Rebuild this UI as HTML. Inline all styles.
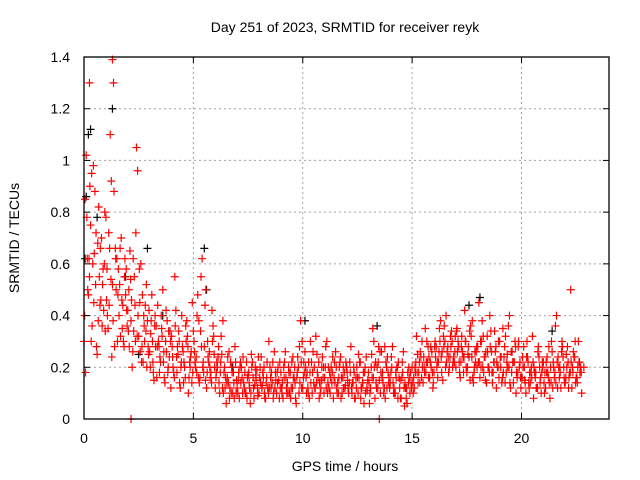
<!DOCTYPE html>
<html><head><meta charset="utf-8"><style>
body{margin:0;background:#fff}
svg{display:block;font-family:"Liberation Sans",sans-serif}
</style></head><body>
<svg id="chart" width="640" height="480" viewBox="0 0 640 480">
<rect width="640" height="480" fill="#fff"/>
<g id="grid"></g>
<g id="marks"></g>
<rect x="84" y="57" width="525" height="362" fill="none" stroke="#000" stroke-width="1.3"/>
<g id="ticks"></g>
<text x="345" y="32" font-size="14" text-anchor="middle">Day 251 of 2023, SRMTID for receiver reyk</text>
<text x="345" y="471" font-size="14" text-anchor="middle">GPS time / hours</text>
<text transform="translate(19,238) rotate(-90)" font-size="14" text-anchor="middle">SRMTID / TECUs</text>
</svg>
<script>
const xTicks=[0,5,10,15,20];
const yTicks=[0,0.2,0.4,0.6,0.8,1,1.2,1.4];
const yTickLabels=["0","0.2","0.4","0.6","0.8","1","1.2","1.4"];
const dt=0.1;
const redAStart=0.05;
const redA=[.85,.62,.55,.95,.45,.72,.38,.66,.52,.80,.58,.44,.92,1.30,.62,.48,.66,.35,.55,.42,.50,.38,.62,.30,.96,.45,.28,.36,.52,.25,.33,.22,.40,.28,.18,.35,.26,.42,.20,.30,.24,.55,.18,.30,.22,.14,.36,.28,.20,.45,.26,.18,.38,.55,.22,.15,.30,.20,.42,.25,.18,.28,.22,.38,.12,.16,.08,.20,.14,.10,.15,.22,.10,.18,.08,.14,.25,.12,.17,.09,.20,.13,.10,.16,.30,.12,.08,.18,.14,.22,.10,.16,.12,.20,.08,.24,.14,.18,.28,.12,.22,.16,.10,.30,.18,.12,.25,.08,.15,.20,.28,.14,.10,.18,.22,.12,.16,.08,.20,.13,.15,.22,.10,.18,.12,.25,.08,.14,.20,.11,.06,.25,.30,.14,.22,.10,.18,.28,.12,.16,.24,.10,.18,.08,.15,.22,.05,.12,.20,.14,.10,.18,.25,.14,.30,.20,.22,.16,.28,.12,.30,.22,.35,.18,.28,.40,.24,.32,.20,.26,.35,.22,.28,.18,.30,.25,.15,.38,.20,.28,.45,.20,.32,.15,.26,.40,.18,.22,.12,.30,.20,.35,.14,.25,.40,.18,.22,.10,.28,.16,.24,.15,.30,.12,.20,.08,.18,.26,.14,.22,.10,.18,.28,.14,.22,.36,.12,.20,.30,.16,.25,.12,.50,.18,.30,.14,.22,.10,.20];
const redBStart=0.0;
const redB=[.30,1.02,.48,.75,.60,.88,.25,.55,.70,.42,.78,.35,1.10,.52,.28,.62,.40,.70,.30,.48,.42,.65,.20,.55,1.05,.32,.60,.22,.44,.38,.26,.48,.15,.36,.30,.22,.50,.14,.38,.24,.32,.18,.42,.25,.12,.28,.20,.38,.16,.26,.34,.20,.48,.16,.62,.28,.12,.22,.18,.36,.12,.20,.10,.25,.18,.06,.14,.22,.10,.28,.12,.08,.20,.14,.10,.17,.06,.22,.13,.19,.10,.24,.16,.08,.12,.20,.14,.26,.10,.15,.18,.08,.26,.14,.10,.22,.16,.06,.20,.38,.12,.26,.18,.08,.22,.14,.32,.16,.10,.24,.16,.30,.12,.20,.08,.26,.14,.22,.10,.18,.20,.10,.28,.14,.08,.16,.22,.12,.06,.24,.18,.12,.35,.08,.20,.15,.26,.10,.22,.18,.14,.28,.10,.20,.16,.08,.26,.12,.18,.10,.20,.12,.32,.18,.24,.14,.35,.22,.16,.26,.18,.28,.22,.38,.15,.30,.26,.20,.34,.24,.20,.30,.16,.26,.42,.18,.24,.32,.14,.22,.28,.16,.38,.24,.14,.20,.34,.18,.26,.20,.30,.14,.24,.18,.36,.12,.22,.30,.16,.20,.16,.28,.10,.22,.14,.32,.18,.12,.24,.10,.22,.12,.18,.08,.26,.16,.40,.20,.12,.24,.14,.28,.18,.12,.24,.16,.30,.20];
const redCStart=0.07;
const redC=[.18,.50,.90,.36,.64,.28,.82,.46,.58,.34,.40,.66,.24,.88,.50,.58,.32,.44,.62,.36,.28,.46,.34,.72,.40,.26,.48,.30,.20,.42,.38,.18,.28,.44,.24,.32,.16,.26,.34,.12,.20,.36,.28,.14,.40,.22,.30,.10,.24,.18,.22,.40,.14,.28,.18,.50,.24,.16,.30,.20,.22,.14,.32,.10,.16,.24,.12,.18,.08,.15,.18,.14,.24,.10,.16,.12,.20,.08,.15,.24,.14,.18,.08,.22,.12,.18,.10,.15,.20,.12,.14,.22,.10,.18,.12,.16,.08,.24,.14,.30,.18,.10,.22,.14,.26,.12,.18,.14,.20,.10,.12,.20,.16,.24,.14,.10,.20,.16,.12,.22,.12,.18,.14,.08,.20,.16,.12,.18,.10,.15,.10,.16,.20,.12,.28,.18,.14,.08,.24,.12,.20,.12,.16,.22,.08,.18,.14,.06,.16,.12,.16,.22,.14,.26,.20,.18,.30,.24,.20,.14,.24,.16,.30,.26,.36,.22,.18,.28,.22,.32,.26,.18,.32,.24,.20,.28,.36,.16,.26,.20,.22,.30,.18,.26,.20,.28,.14,.34,.22,.16,.24,.18,.32,.20,.14,.26,.22,.18,.30,.12,.20,.14,.24,.18,.16,.20,.12,.28,.16,.20,.18,.24,.14,.30,.20,.14,.24,.18,.28,.14,.20,.16,.22,.26,.14,.20,.18];
const redDStart=0.03;
const redD=[.40,.78,.62,.30,.98,.52,.68,.44,.36,.60,.46,.72,.54,.38,.66,.30,.52,.46,.28,.58,.34,.54,.26,.44,.32,.58,.22,.40,.34,.28,.20,.30,.36,.16,.28,.40,.22,.30,.18,.34,.28,.16,.24,.34,.20,.26,.16,.32,.22,.14,.30,.24,.16,.34,.20,.44,.18,.26,.14,.32,.16,.24,.18,.12,.20,.14,.26,.10,.18,.22,.10,.20,.16,.12,.22,.18,.10,.16,.20,.12,.16,.12,.20,.14,.10,.16,.22,.12,.18,.08,.12,.20,.16,.10,.18,.12,.20,.16,.10,.22,.16,.20,.12,.18,.10,.20,.14,.22,.12,.16,.20,.10,.18,.14,.16,.20,.10,.24,.16,.12,.18,.14,.12,.20,.16,.10,.22,.14,.18,.12,.14,.20,.16,.22,.12,.26,.16,.12,.20,.14,.18,.14,.10,.20,.12,.16,.12,.08,.14,.18,.14,.20,.18,.22,.16,.24,.18,.28,.22,.18,.28,.20,.26,.24,.32,.20,.28,.24,.30,.22,.34,.28,.22,.24,.30,.20,.34,.24,.18,.26,.22,.30,.20,.24,.32,.18,.26,.22,.28,.20,.24,.16,.28,.22,.20,.26,.14,.28,.18,.22,.16,.20,.24,.14,.18,.22,.16,.12,.20,.18,.14,.22,.16,.20,.12,.18,.22,.16,.26,.20,.16,.22,.18,.20,.24,.16,.22,.18];
const redExtraT=[2.15,13.5,1.3,0.25];
const redExtraV=[0,0,1.39,1.3];
const blackT=[0.1,0.2,0.3,1.3,0.6,2.9,5.5,5.6,1.9,10.1,13.4,17.6,18.1,21.4,2.5,6.8,12.0,0.05,3.6];
const blackV=[0.86,1.1,1.12,1.2,0.78,0.66,0.66,0.5,0.55,0.38,0.36,0.44,0.47,0.34,0.25,0.2,0.2,0.62,0.4];

const X0=84,X1=609,Y0=419,Y1=57,XMAX=24,YMAX=1.4;
const sx=v=>X0+(X1-X0)*v/XMAX;
const sy=v=>Y0-(Y0-Y1)*v/YMAX;
const NS="http://www.w3.org/2000/svg";
const grid=document.getElementById('grid'),ticks=document.getElementById('ticks'),marks=document.getElementById('marks');
function mk(tag,attrs,parent){const e=document.createElementNS(NS,tag);for(const k in attrs)e.setAttribute(k,attrs[k]);parent.appendChild(e);return e;}
xTicks.forEach(t=>{
  const x=sx(t);
  if(t>0){const g=mk('line',{x1:x,x2:x,y1:Y0,y2:Y1,stroke:'#a0a0a0','stroke-dasharray':'2,3'},grid);
  
  }
  mk('line',{x1:x,x2:x,y1:Y0,y2:Y0-6,stroke:'#000'},ticks);
  mk('line',{x1:x,x2:x,y1:Y1,y2:Y1+6,stroke:'#000'},ticks);
  const l=mk('text',{x:x,y:Y0+24,'font-size':14,'text-anchor':'middle'},ticks);l.textContent=t;
  
  
});
yTicks.forEach((t,i)=>{
  const y=sy(t);
  if(t>0&&t<YMAX){const g=mk('line',{x1:X0,x2:X1,y1:y,y2:y,stroke:'#a0a0a0','stroke-dasharray':'2,3'},grid);
  
  }
  mk('line',{x1:X0,x2:X0+6,y1:y,y2:y,stroke:'#000'},ticks);
  mk('line',{x1:X1,x2:X1-6,y1:y,y2:y,stroke:'#000'},ticks);
  const l=mk('text',{x:X0-14,y:y+5,'font-size':14,'text-anchor':'end'},ticks);l.textContent=yTickLabels[i];
  
  
});
function plus(t,v,col){
  const x=sx(t),y=sy(v);
  const p=mk('path',{d:`M${x-4},${y}h8M${x},${y-4}v8`,stroke:col,'stroke-width':1.2,fill:'none'},marks);
  
  
}
blackT.forEach((t,i)=>plus(t,blackV[i],'#000'));
redA.forEach((v,i)=>plus(redAStart+i*dt,v,'#ff0000'));
redB.forEach((v,i)=>plus(redBStart+i*dt,v,'#ff0000'));
redC.forEach((v,i)=>plus(redCStart+i*dt,v,'#ff0000'));
redD.forEach((v,i)=>plus(redDStart+i*dt,v,'#ff0000'));
redExtraT.forEach((t,i)=>plus(t,redExtraV[i],'#ff0000'));
</script>
</body></html>
